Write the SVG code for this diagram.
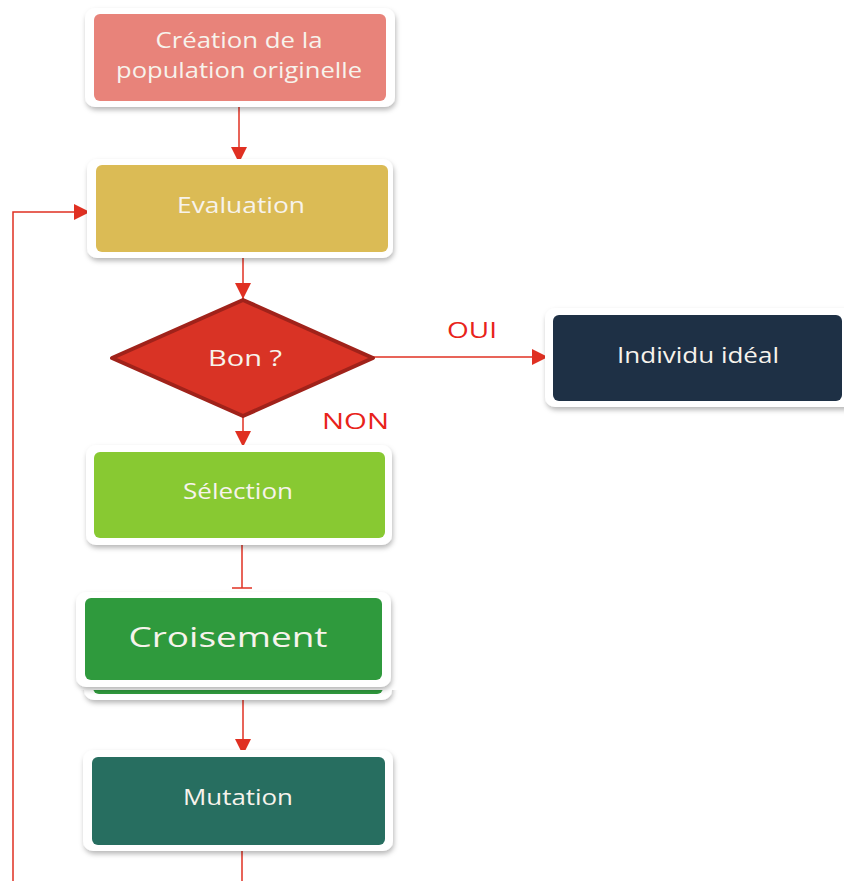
<svg xmlns="http://www.w3.org/2000/svg" width="844" height="881" viewBox="0 0 844 881">
<defs>
<filter id="sh" x="-10%" y="-20%" width="120%" height="150%">
<feDropShadow dx="1" dy="3" stdDeviation="2.5" flood-color="#000" flood-opacity="0.28"/>
</filter>
<marker id="ah" viewBox="0 0 10 10" refX="10" refY="5" markerWidth="16" markerHeight="16" markerUnits="userSpaceOnUse" orient="auto">
<path d="M0,0 L10,5 L0,10 z" fill="#E03022"/>
</marker>
<style>
.frame{fill:#fff;filter:url(#sh)}
.lbl{font-family:"Open Sans","DejaVu Sans",sans-serif;font-size:21px;fill:#F7F3EC;text-anchor:middle}
.con{stroke:#E03022;stroke-width:1.5;fill:none}
.red{font-family:"Open Sans","DejaVu Sans",sans-serif;font-size:21px;fill:#E8231A}
</style>
</defs>
<rect width="844" height="881" fill="#fff"/>
<g id="connectors">
<line class="con" x1="239" y1="107" x2="239" y2="163" marker-end="url(#ah)"/>
<polyline class="con" stroke="#EE7070" points="13,881 13,212 90,212" marker-end="url(#ah)"/>
<line class="con" x1="243" y1="258" x2="243" y2="299" marker-end="url(#ah)"/>
<line class="con" x1="373" y1="357" x2="548" y2="357" marker-end="url(#ah)"/>
<line class="con" x1="243" y1="416" x2="243" y2="447" marker-end="url(#ah)"/>
<line class="con" x1="242" y1="545" x2="242" y2="588"/>
<line class="con" x1="232" y1="588" x2="252" y2="588"/>
<line class="con" x1="243" y1="700" x2="243" y2="755" marker-end="url(#ah)"/>
<line class="con" x1="242" y1="851" x2="242" y2="881"/>
<text class="red" x="447" y="338" textLength="50" lengthAdjust="spacingAndGlyphs">OUI</text>
<text class="red" x="322" y="429" textLength="67" lengthAdjust="spacingAndGlyphs">NON</text>
</g>
<g id="creation">
<rect class="frame" x="85" y="8" width="310" height="99" rx="10"/>
<rect x="94" y="14" width="292" height="87" rx="6" fill="#E8837A"/>
<text class="lbl" x="239" y="48" textLength="167" lengthAdjust="spacingAndGlyphs">Création de la</text>
<text class="lbl" x="239" y="78" textLength="246" lengthAdjust="spacingAndGlyphs">population originelle</text>
</g>
<g id="evaluation">
<rect class="frame" x="87" y="159" width="306" height="99" rx="10"/>
<rect x="96" y="165" width="292" height="87" rx="6" fill="#DBBB55"/>
<text class="lbl" x="241" y="213" textLength="128" lengthAdjust="spacingAndGlyphs">Evaluation</text>
</g>
<g id="bon">
<polygon points="243,300 373,358 243,416 112,358" fill="#D93325" stroke="#A0221A" stroke-width="4" stroke-linejoin="round"/>
<text class="lbl" x="245" y="366" textLength="74" lengthAdjust="spacingAndGlyphs">Bon ?</text>
</g>
<g id="individu">
<rect class="frame" x="545" y="308" width="310" height="99" rx="10"/>
<rect x="553" y="315" width="289" height="86" rx="6" fill="#1E3045"/>
<text class="lbl" x="698" y="363" textLength="162" lengthAdjust="spacingAndGlyphs">Individu idéal</text>
</g>
<g id="selection">
<rect class="frame" x="86" y="445" width="306" height="100" rx="10"/>
<rect x="94" y="452" width="291" height="86" rx="6" fill="#88C932"/>
<text class="lbl" x="238" y="499" textLength="110" lengthAdjust="spacingAndGlyphs">Sélection</text>
</g>
<g id="croisement">
<rect class="frame" x="84" y="612" width="308" height="88" rx="10"/>
<rect x="93" y="620" width="290" height="74" rx="6" fill="#2F9A3D"/>
<rect x="70" y="596" width="340" height="94" fill="#fff"/>
<rect class="frame" x="76" y="592" width="315" height="95" rx="10"/>
<rect x="85" y="598" width="297" height="82" rx="6" fill="#2F9A3D"/>
<text class="lbl" x="228" y="647" style="font-size:28px" textLength="199" lengthAdjust="spacingAndGlyphs">Croisement</text>
</g>
<g id="mutation">
<rect class="frame" x="83" y="750" width="310" height="101" rx="10"/>
<rect x="92" y="757" width="293" height="88" rx="6" fill="#276E60"/>
<text class="lbl" x="238" y="805" textLength="110" lengthAdjust="spacingAndGlyphs">Mutation</text>
</g>
</svg>
